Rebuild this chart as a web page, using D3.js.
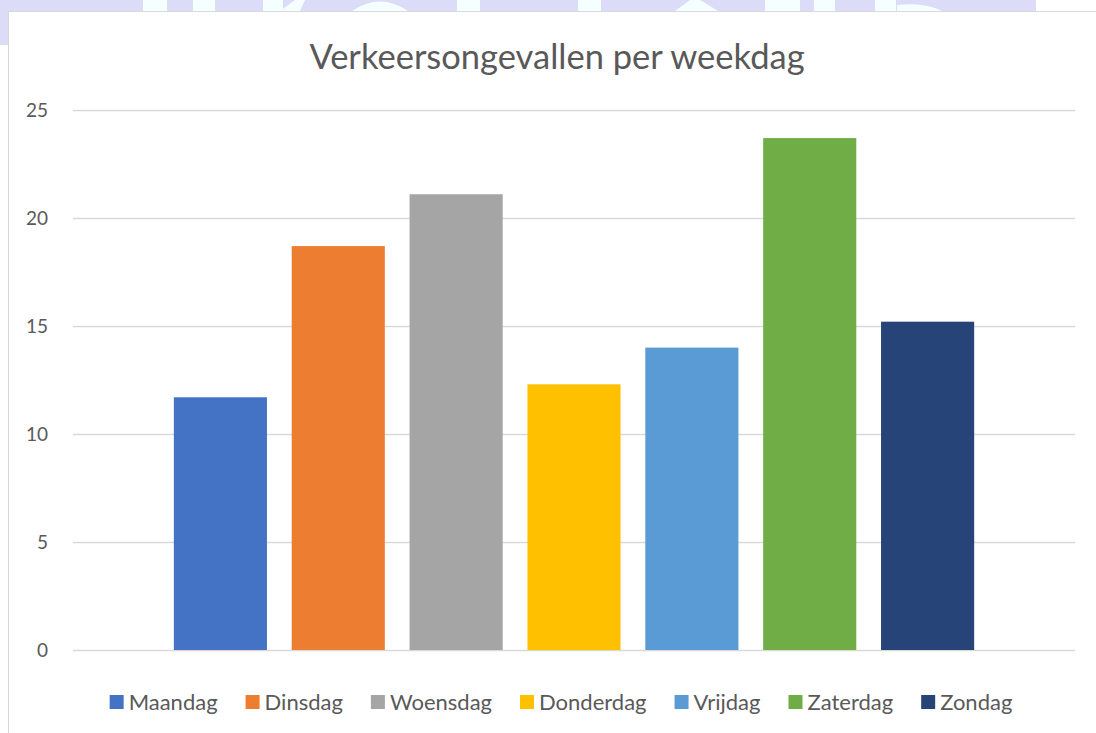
<!DOCTYPE html>
<meta charset="utf-8">
<title>Verkeersongevallen per weekdag</title>
<head>
  <script src="https://d3js.org/d3.v7.min.js"></script>
  <style>
    body { margin: 0; background: #fff; }
    text { font-family: Lato, "Open Sans", sans-serif; fill: #595959; }
  </style>
</head>
<body>
  <div id="chart"></div>
  <script>
    var days = ["Maandag", "Dinsdag", "Woensdag", "Donderdag", "Vrijdag", "Zaterdag", "Zondag"]
    var values = [11.7, 18.7, 21.1, 12.3, 14.0, 23.7, 15.2]
    var colors = ["#4472c4", "#ed7d31", "#a5a5a5", "#ffc000", "#5b9bd5", "#70ad47", "#264478"]
    var yTicks = [0, 5, 10, 15, 20, 25]

    var width = 1096, height = 733

    var svg = d3.select("#chart").append("svg")
      .attr("width", width)
      .attr("height", height)

    // watermark strip at the top (decoration behind the chart frame)
    var wm = svg.append("g")
    wm.append("rect").attr("x", 0).attr("y", 0).attr("width", 1036).attr("height", 12).attr("fill", "#dcdcf8")
    wm.append("rect").attr("x", 0).attr("y", 0).attr("width", 8).attr("height", 45).attr("fill", "#dcdcf8")
    var cyan = [[143, 24], [193, 22], [263, 20], [457, 23], [578, 23], [765, 35], [814, 21], [875, 21]]
    cyan.forEach(function(c) {
      wm.append("rect").attr("x", c[0]).attr("y", 0).attr("width", c[1]).attr("height", 11).attr("fill", "#f5ffff")
    })
    wm.append("path").attr("d", "M280,11 L295,0 L305,0 L300,11 Z").attr("fill", "#f5ffff")
    wm.append("path").attr("d", "M352,11 Q380,-8 408,11 Z").attr("fill", "#f5ffff")
    wm.append("path").attr("d", "M675,11 L690,0 L700,0 L718,11 Z").attr("fill", "#f5ffff")
    wm.append("path").attr("d", "M897,11 L897,5 Q925,2 942,11 Z").attr("fill", "#f5ffff")

    // chart frame
    svg.append("rect")
      .attr("x", 8.5).attr("y", 11.5)
      .attr("width", width).attr("height", height)
      .attr("fill", "#fff")
      .attr("stroke", "#d9d9d9")

    var plotLeft = 73, plotRight = 1075, plotTop = 110, plotBottom = 650

    var y = d3.scaleLinear().domain([0, 25]).range([plotBottom, plotTop])

    // one category holding seven series
    var x0 = d3.scaleBand().domain(["weekdag"]).range([plotLeft, plotRight]).paddingInner(0).paddingOuter(0.126)
    var x1 = d3.scaleBand().domain(days).range([0, x0.bandwidth()]).paddingInner(0.21).paddingOuter(0)

    svg.append("g")
      .selectAll("line")
      .data(yTicks)
      .enter().append("line")
      .attr("x1", plotLeft).attr("x2", plotRight)
      .attr("y1", function(d) { return Math.round(y(d)) + 0.5 })
      .attr("y2", function(d) { return Math.round(y(d)) + 0.5 })
      .attr("stroke", "#d9d9d9")
      .attr("stroke-width", 1.3)

    svg.append("g")
      .selectAll("text")
      .data(yTicks)
      .enter().append("text")
      .attr("x", 48)
      .attr("y", function(d) { return y(d) })
      .attr("dy", "0.35em")
      .attr("text-anchor", "end")
      .style("font-size", "19px")
      .text(function(d) { return d })

    svg.append("g")
      .selectAll("rect")
      .data(values)
      .enter().append("rect")
      .attr("x", function(d, i) { return x0("weekdag") + x1(days[i]) })
      .attr("y", function(d) { return y(d) })
      .attr("width", x1.bandwidth())
      .attr("height", function(d) { return y(0) - y(d) })
      .attr("fill", function(d, i) { return colors[i] })

    svg.append("text")
      .attr("x", 557)
      .attr("y", 69)
      .attr("text-anchor", "middle")
      .style("font-size", "34.5px")
      .text("Verkeersongevallen per weekdag")

    // legend, centred under the plot
    var legend = svg.append("g")
    var items = legend.selectAll("g")
      .data(days)
      .enter().append("g")
    items.append("rect")
      .attr("width", 14).attr("height", 14)
      .attr("y", -7)
      .attr("fill", function(d, i) { return colors[i] })
    items.append("text")
      .attr("x", 19)
      .attr("dy", "0.35em")
      .style("font-size", "22px")
      .text(function(d) { return d })

    var pos = 0
    items.each(function() {
      var w = this.querySelector("text").getComputedTextLength()
      d3.select(this).attr("transform", "translate(" + pos + ",0)")
      pos += 19 + w + 28
    })
    pos -= 28
    legend.attr("transform", "translate(" + (561 - pos / 2) + ",702)")
  </script>
</body>
